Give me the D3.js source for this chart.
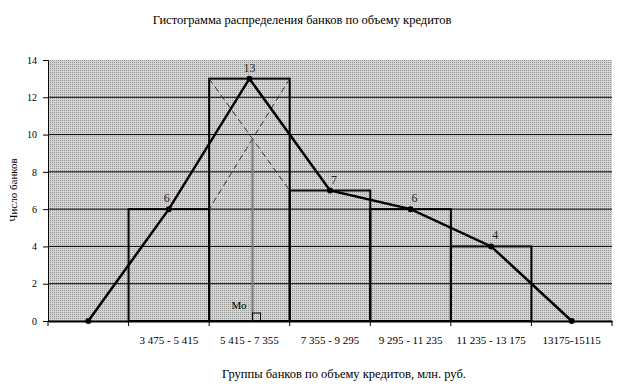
<!DOCTYPE html>
<html>
<head>
<meta charset="utf-8">
<script src="https://cdn.jsdelivr.net/npm/d3@7"></script>
<style>
  body { margin: 0; background: #fff; }
  svg { display: block; font-family: "Liberation Serif", "Times New Roman", serif; }
</style>
</head>
<body>
<svg id="chart" width="623" height="388"></svg>
<script>
// groups of banks by credit volume (first slot is empty: polygon start)
const groups = ["", "3 475 - 5 415", "5 415 - 7 355", "7 355 - 9 295", "9 295 - 11 235", "11 235 - 13 175", "13175-15115"];
const banks = [0, 6, 13, 7, 6, 4, 0];
const yTicks = [0, 2, 4, 6, 8, 10, 12, 14];

const svg = d3.select('#chart');
const plotL = 48, plotR = 612, plotT = 60, plotB = 321;

// dotted grey fill of the plot area
const defs = svg.append('defs');
const pat = defs.append('pattern')
    .attr('id', 'dots')
    .attr('width', 2).attr('height', 2)
    .attr('patternUnits', 'userSpaceOnUse');
pat.append('rect').attr('width', 2).attr('height', 2).attr('fill', '#d4d4d4');
pat.append('rect').attr('width', 1).attr('height', 1).attr('fill', '#959595');

let x = d3.scaleBand()
    .domain(d3.range(groups.length))
    .range([plotL, plotR])
    .padding(0);
let y = d3.scaleLinear()
    .domain([0, 14])
    .range([plotB, plotT]);

svg.append('rect')
    .attr('x', plotL).attr('y', plotT)
    .attr('width', plotR - plotL).attr('height', plotB - plotT)
    .attr('fill', 'url(#dots)');

// horizontal grid
svg.append('g')
    .selectAll('line')
    .data(yTicks.filter(d => d > 0 && d < 14))
    .enter().append('line')
    .attr('x1', plotL).attr('x2', plotR)
    .attr('y1', d => y(d)).attr('y2', d => y(d))
    .attr('stroke', '#000').attr('stroke-width', 1);

// histogram bars
let bars = banks.map((v, i) => ({ v, i })).filter(d => d.v > 0);
svg.append('g')
    .selectAll('rect')
    .data(bars)
    .enter().append('rect')
    .attr('x', d => x(d.i))
    .attr('y', d => y(d.v))
    .attr('width', x.bandwidth())
    .attr('height', d => y(0) - y(d.v))
    .attr('fill', 'none')
    .attr('stroke', '#000')
    .attr('stroke-width', 2);

// mode construction
let m = banks.indexOf(d3.max(banks));
let x0 = x(m), x1 = x(m) + x.bandwidth();
let yTop = y(banks[m]), yPrev = y(banks[m - 1]), yNext = y(banks[m + 1]);
let dash = svg.append('g')
    .attr('stroke', '#333').attr('stroke-width', 1)
    .attr('stroke-dasharray', '6,4');
dash.append('line').attr('x1', x0).attr('y1', yTop).attr('x2', x1).attr('y2', yNext);
dash.append('line').attr('x1', x1).attr('y1', yTop).attr('x2', x0).attr('y2', yPrev);

let f2 = banks[m], f1 = banks[m - 1], f3 = banks[m + 1];
let t = (f2 - f1) / ((f2 - f1) + (f2 - f3));
let xm = x0 + t * x.bandwidth();
let ym = yTop + t * (yNext - yTop);
svg.append('line')
    .attr('x1', xm).attr('x2', xm)
    .attr('y1', ym).attr('y2', y(0))
    .attr('stroke', '#777').attr('stroke-width', 2);
svg.append('rect')
    .attr('x', xm).attr('y', y(0) - 8)
    .attr('width', 8).attr('height', 8)
    .attr('fill', 'none').attr('stroke', '#000').attr('stroke-width', 1);
svg.append('text')
    .attr('x', xm - 6).attr('y', y(0) - 12)
    .attr('text-anchor', 'end')
    .attr('font-size', 11)
    .text('Мо');

// frequency polygon
let line = d3.line()
    .x((d, i) => x(i) + x.bandwidth() / 2)
    .y(d => y(d));
svg.append('path')
    .datum(banks)
    .attr('d', line)
    .attr('fill', 'none')
    .attr('stroke', '#000')
    .attr('stroke-width', 2.5);
svg.append('g')
    .selectAll('circle')
    .data(banks)
    .enter().append('circle')
    .attr('cx', (d, i) => x(i) + x.bandwidth() / 2)
    .attr('cy', d => y(d))
    .attr('r', 3)
    .attr('fill', '#000');
svg.append('g')
    .selectAll('text')
    .data(bars)
    .enter().append('text')
    .attr('x', d => x(d.i) + x.bandwidth() / 2 + (d.i > m ? 4 : (d.i < m ? -2 : 0)))
    .attr('y', d => y(d.v) - 7)
    .attr('text-anchor', 'middle')
    .attr('font-size', 12)
    .attr('fill', '#222')
    .text(d => d.v);

// axes
let gY = svg.append('g').attr('transform', `translate(${plotL},0)`);
gY.call(d3.axisLeft(y).tickValues(yTicks).tickSize(5).tickPadding(6));
gY.selectAll('text').attr('font-size', 10).attr('font-family', 'Liberation Serif');
gY.selectAll('path,line').attr('stroke', '#000');

let gX = svg.append('g').attr('transform', `translate(0,${plotB})`);
gX.call(d3.axisBottom(x).tickFormat(i => groups[i]).tickSize(0).tickPadding(15));
gX.selectAll('text').attr('font-size', 11).attr('font-family', 'Liberation Serif');
gX.select('.domain').attr('stroke', '#000').attr('stroke-width', 2);
gX.selectAll('.sep')
    .data(d3.range(groups.length + 1))
    .enter().append('line')
    .attr('class', 'sep')
    .attr('x1', i => i < groups.length ? x(i) : plotR)
    .attr('x2', i => i < groups.length ? x(i) : plotR)
    .attr('y1', 0).attr('y2', 5)
    .attr('stroke', '#000');

// titles
svg.append('text')
    .attr('x', 302).attr('y', 24)
    .attr('text-anchor', 'middle')
    .attr('font-size', 12.5)
    .text('Гистограмма распределения банков по объему кредитов');
svg.append('text')
    .attr('x', 344).attr('y', 378)
    .attr('text-anchor', 'middle')
    .attr('font-size', 12.5)
    .text('Группы банков по объему кредитов, млн. руб.');
svg.append('text')
    .attr('transform', 'translate(17,190) rotate(-90)')
    .attr('text-anchor', 'middle')
    .attr('font-size', 11)
    .text('Число банков');
</script>
</body>
</html>
